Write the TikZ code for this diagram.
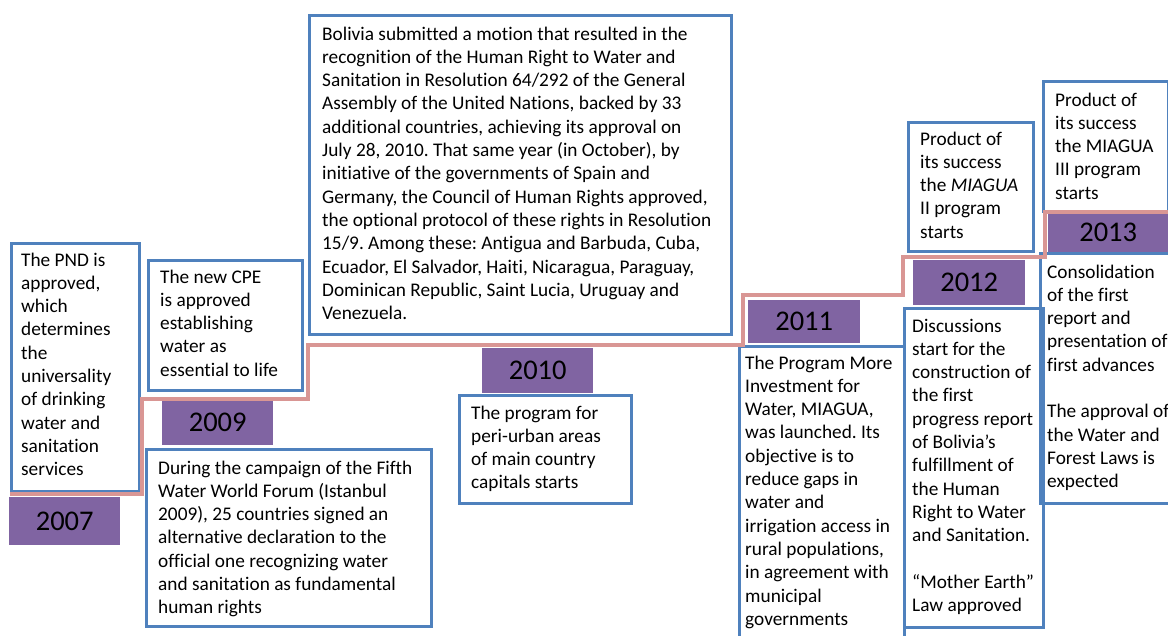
\documentclass[tikz,border=0pt]{standalone}
\usepackage{fontspec}
\setmainfont{Carlito}[Ligatures=NoCommon]
\frenchspacing
\definecolor{boxblue}{RGB}{79,129,189}
\definecolor{yearpurple}{RGB}{128,100,162}
\definecolor{linepink}{RGB}{217,150,148}
\newcommand{\txtlines}[1]{\begin{tabular}[t]{@{}l@{}}#1\end{tabular}}
\tikzset{
  bluebox/.style={draw=boxblue, line width=3pt, inner sep=0pt, anchor=north west},
  yearbox/.style={fill=yearpurple, inner sep=0pt, anchor=north west, font=\fontsize{28.5}{30}\selectfont},
  bodytext/.style={inner sep=0pt, anchor=base west, font=\fontsize{19.3}{23.3}\selectfont},
  timeline/.style={draw=linepink, line width=4.5pt, line join=miter},
  timeshadow/.style={draw=black, opacity=0.18, line width=4.5pt},
}
\begin{document}
\begin{tikzpicture}[x=1pt,y=-1pt]
\useasboundingbox[fill=white] (0,0) rectangle (1168,635);

% year boxes
\node[yearbox, minimum width=111pt, minimum height=48pt] (y2007) at (9,497) {2007};
\node[yearbox, minimum width=111pt, minimum height=45pt] (y2009) at (162,400) {2009};
\node[yearbox, minimum width=111pt, minimum height=45pt] (y2010) at (482,348) {2010};
\node[yearbox, minimum width=112pt, minimum height=43pt] (y2011) at (748,300) {2011};
\node[yearbox, minimum width=112pt, minimum height=45pt] (y2012) at (913,260) {2012};
\node[yearbox, minimum width=120pt, minimum height=39pt] (y2013) at (1048,213) {2013};

% blue boxes
\node[bluebox, minimum width=128pt, minimum height=248pt] (b2007) at (10,242) {};
\node[bluebox, minimum width=154pt, minimum height=130pt] (b2009a) at (147,259) {};
\node[bluebox, minimum width=285pt, minimum height=177pt] (b2009b) at (145,448) {};
\node[bluebox, minimum width=422pt, minimum height=319pt] (b2010a) at (308,14) {};
\node[bluebox, minimum width=172pt, minimum height=108pt] (b2010b) at (458,394) {};
\node[bluebox, minimum width=165pt, minimum height=310pt] (b2011) at (738,345) {};
\node[bluebox, minimum width=125pt, minimum height=129pt] (b2012a) at (907,121) {};
\node[bluebox, minimum width=139pt, minimum height=319pt] (b2012b) at (903,307) {};
\node[bluebox, minimum width=125pt, minimum height=130pt] (b2013a) at (1042,80) {};
\node[bluebox, minimum width=140pt, minimum height=250pt] (b2013b) at (1039,252) {};

% texts
\node[bodytext] (t2007) at (21,266) {\txtlines{The PND is\\ approved,\\ which\\ determines\\ the\\ universality\\ of drinking\\ water and\\ sanitation\\ services}};
\node[bodytext] (t2009a) at (160,283) {\txtlines{The new CPE\\ is approved\\ establishing\\ water as\\ essential to life}};
\node[bodytext] (t2009b) at (158,474) {\txtlines{During the campaign of the Fifth\\ Water World Forum (Istanbul\\ 2009), 25 countries signed an\\ alternative declaration to the\\ official one recognizing water\\ and sanitation as fundamental\\ human rights}};
\node[bodytext] (t2010a) at (322,40) {\txtlines{Bolivia submitted a motion that resulted in the\\ recognition of the Human Right to Water and\\ Sanitation in Resolution 64/292 of the General\\ Assembly of the United Nations, backed by 33\\ additional countries, achieving its approval on\\ July 28, 2010. That same year (in October), by\\ initiative of the governments of Spain and\\ Germany, the Council of Human Rights approved,\\ the optional protocol of these rights in Resolution\\ 15/9. Among these: Antigua and Barbuda, Cuba,\\ Ecuador, El Salvador, Haiti, Nicaragua, Paraguay,\\ Dominican Republic, Saint Lucia, Uruguay and\\ Venezuela.}};
\node[bodytext] (t2010b) at (471,419) {\txtlines{The program for\\ peri-urban areas\\ of main country\\ capitals starts}};
\node[bodytext] (t2011) at (745,369) {\txtlines{The Program More\\ Investment for\\ Water, MIAGUA,\\ was launched. Its\\ objective is to\\ reduce gaps in\\ water and\\ irrigation access in\\ rural populations,\\ in agreement with\\ municipal\\ governments}};
\node[bodytext] (t2012a) at (920,145) {\txtlines{Product of\\ its success\\ the \textit{MIAGUA}\\ II program\\ starts}};
\node[bodytext] (t2012b) at (912,332) {\txtlines{Discussions\\ start for the\\ construction of\\ the first\\ progress report\\ of Bolivia’s\\ fulfillment of\\ the Human\\ Right to Water\\ and Sanitation.\\ \\ “Mother Earth”\\ Law approved}};
\node[bodytext] (t2013a) at (1055,106) {\txtlines{Product of\\ its success\\ the MIAGUA\\ III program\\ starts}};
\node[bodytext] (t2013b) at (1047,278) {\txtlines{Consolidation\\ of the first\\ report and\\ presentation of\\ first advances\\ \\ The approval of\\ the Water and\\ Forest Laws is\\ expected}};

% timeline
\coordinate (p0) at (10,494);
\coordinate (p1) at (142,494);
\coordinate (p2) at (142,399);
\coordinate (p3) at (308,399);
\coordinate (p4) at (308,345);
\coordinate (p5) at (743,345);
\coordinate (p6) at (743,295);
\coordinate (p7) at (903,295);
\coordinate (p8) at (903,257);
\coordinate (p9) at (1045,257);
\coordinate (p10) at (1045,212);
\coordinate (p11) at (1172,212);
\draw[timeshadow, xshift=1.5pt, yshift=-2pt] (p0) -- (p1) -- (p2) -- (p3) -- (p4) -- (p5) -- (p6) -- (p7) -- (p8) -- (p9) -- (p10) -- (p11);
\draw[timeline] (p0) -- (p1) -- (p2) -- (p3) -- (p4) -- (p5) -- (p6) -- (p7) -- (p8) -- (p9) -- (p10) -- (p11);
\end{tikzpicture}
\end{document}
